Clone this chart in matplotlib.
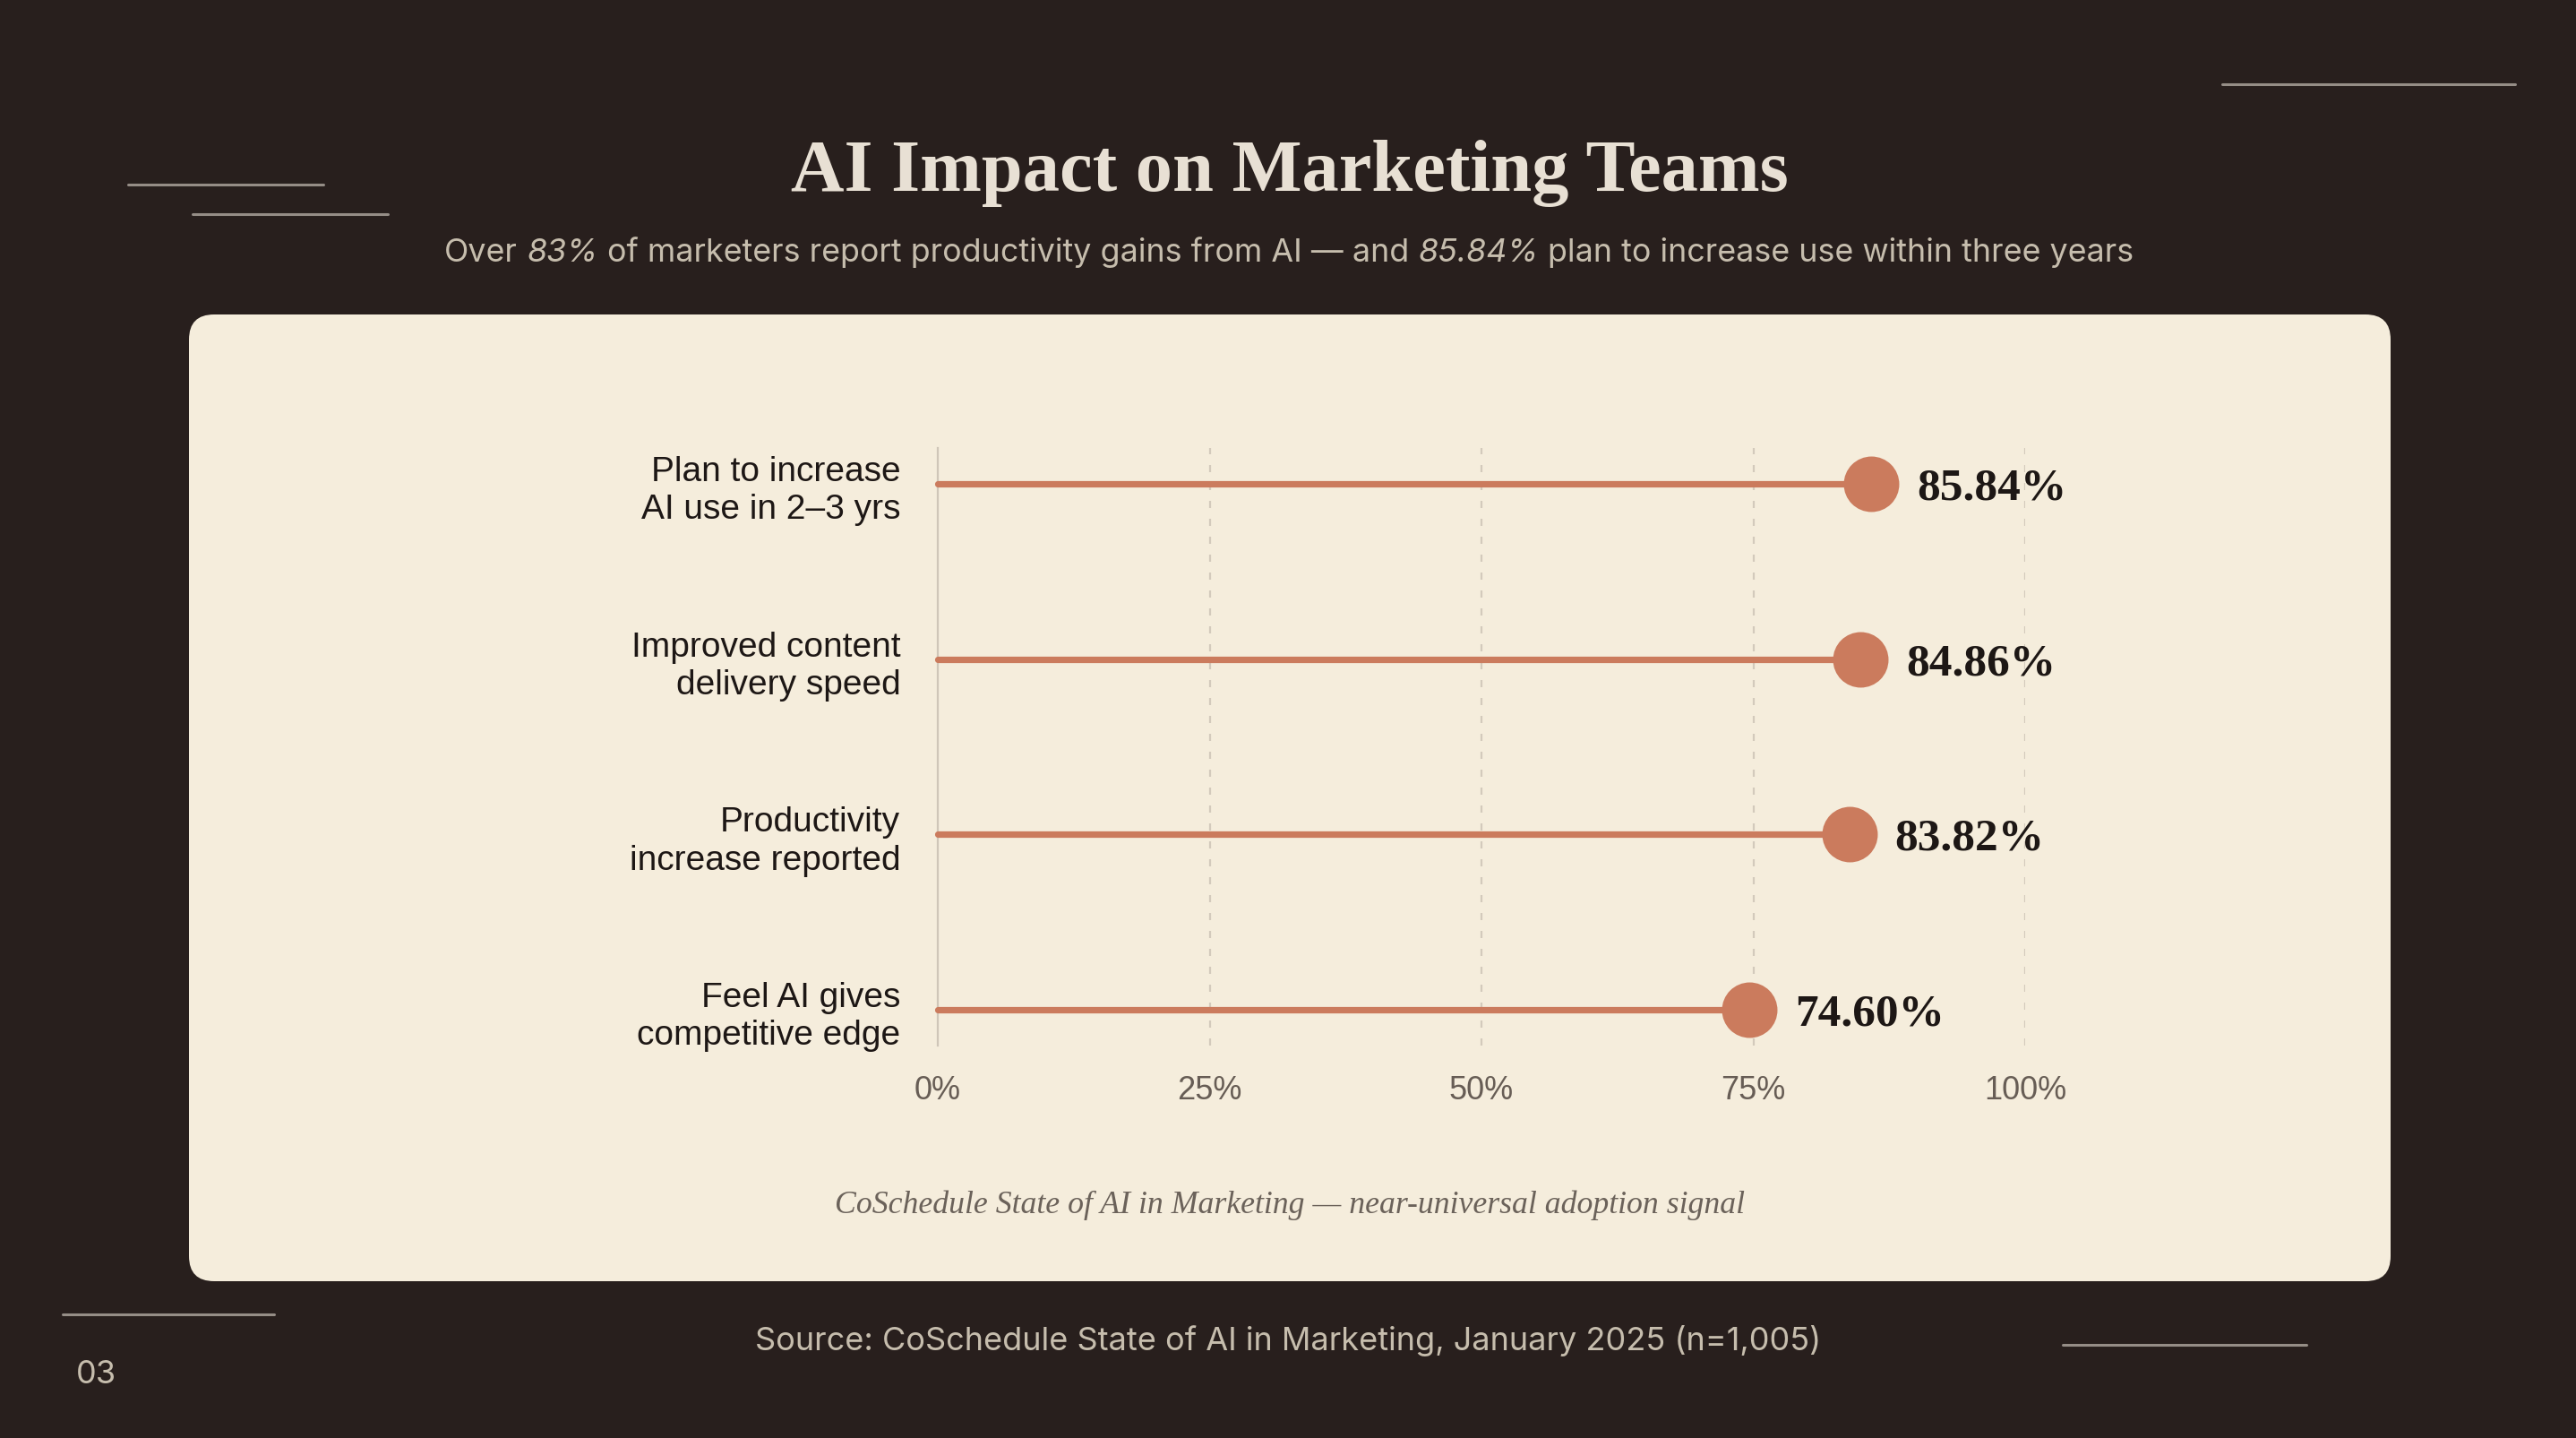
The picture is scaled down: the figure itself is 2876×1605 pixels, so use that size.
import matplotlib
matplotlib.use("Agg")
import matplotlib.pyplot as plt
from matplotlib.patches import FancyBboxPatch

# ---------------- data ----------------
categories = ["Plan to increase\nAI use in 2–3 yrs",
              "Improved content\ndelivery speed",
              "Productivity\nincrease reported",
              "Feel AI gives\ncompetitive edge"]
values = [85.84, 84.86, 83.82, 74.60]
xticks = [0, 25, 50, 75, 100]
xtick_labels = ["0%", "25%", "50%", "75%", "100%"]

title = "AI Impact on Marketing Teams"
subtitle_parts = [("Over", "normal"), ("83%", "italic"),
                  ("of marketers report productivity gains from AI — and", "normal"),
                  ("85.84%", "italic"),
                  ("plan to increase use within three years", "normal")]
caption = "CoSchedule State of AI in Marketing — near-universal adoption signal"
source = "Source: CoSchedule State of AI in Marketing, January 2025 (n=1,005)"
page_no = "03"

# ---------------- style ----------------
W, H, DPI = 2876, 1606, 200
BG = "#281f1d"
CARD = "#f5eddc"
ACCENT = "#cb7b5d"
LIGHT = "#e8e0d4"
MUTED = "#c6bdad"
DECO = "#958d86"
GRID = "#d3cabc"
TICK = "#675d55"
INK = "#1d1715"
SANS = ["Liberation Sans", "DejaVu Sans"]
SERIF = ["Liberation Serif", "DejaVu Serif"]
INTER = ["Inter", "DejaVu Sans"]

fig = plt.figure(figsize=(W / DPI, H / DPI), dpi=DPI, facecolor=BG)

# background axes in pixel coordinates (y downward)
bg = fig.add_axes([0, 0, 1, 1])
bg.set_xlim(0, W)
bg.set_ylim(H, 0)
bg.axis("off")
bg.set_zorder(0)

# card
card = FancyBboxPatch((211, 352), 2669 - 211, 1431 - 352,
                      boxstyle="round,pad=0,rounding_size=28",
                      facecolor=CARD, edgecolor="none")
bg.add_patch(card)

# decorative lines
for (x0, x1, yy) in [(2481, 2808, 95), (143, 361, 207), (215, 433, 240),
                     (70, 306, 1468), (2303, 2575, 1502)]:
    bg.plot([x0, x1], [yy, yy], color=DECO, lw=1.1, solid_capstyle="round")

# title
bg.text(1440, 213, title, ha="center", va="baseline", color=LIGHT,
        fontsize=29.7, fontweight="bold", family=SERIF)

# subtitle with italic parts
fig.canvas.draw()
r = fig.canvas.get_renderer()
sub_fs = 12.9
def wtext(s, style):
    t = bg.text(0, 0, s, fontsize=sub_fs, family=INTER, style=style)
    w = t.get_window_extent(r).width
    t.remove()
    return w
space_w = wtext("a a", "normal") - wtext("aa", "normal")
widths = [wtext(s, st) for s, st in subtitle_parts]
total = sum(widths) + space_w * (len(subtitle_parts) - 1)
x = 1439 - total / 2
for (s, st), w in zip(subtitle_parts, widths):
    bg.text(x, 292, s, ha="left", va="baseline", color=MUTED,
            fontsize=sub_fs, family=INTER, style=st)
    x += w + space_w

# caption, source, page number
bg.text(1440, 1354, caption, ha="center", va="baseline", color="#6b625a",
        fontsize=12.9, style="italic", family=SERIF)
bg.text(1438, 1507, source, ha="center", va="baseline", color=MUTED,
        fontsize=13.0, family=INTER)
bg.text(85, 1544, page_no, ha="left", va="baseline", color=MUTED,
        fontsize=13, family=INTER)

# ---------------- chart ----------------
ax = fig.add_axes([1047 / W, 1 - 1168 / H, 1214 / W, 667 / H])
ax.set_zorder(2)
ax.patch.set_alpha(0)
n = len(categories)
ypos = list(range(n - 1, -1, -1))
ax.set_xlim(0, 100)
ax.set_ylim(-0.204, n - 1 + 0.204)

for sp in ["top", "right", "bottom"]:
    ax.spines[sp].set_visible(False)
ax.spines["left"].set_color("#cfc6b8")
ax.spines["left"].set_linewidth(0.8)

ax.set_xticks(xticks)
ax.set_xticklabels(xtick_labels, family=SANS, fontsize=13.0, color=TICK)
ax.set_yticks(ypos)
ax.set_yticklabels(categories, family=SANS, fontsize=14.0, color=INK,
                   linespacing=1.22)
ax.tick_params(axis="x", length=0, pad=11.5)
ax.tick_params(axis="y", length=0, pad=15)

ax.grid(axis="x", color=GRID, lw=0.8, linestyle=(0, (3.6, 5.4)))
ax.get_xgridlines()[0].set_visible(False)
ax.set_axisbelow(True)

for y, v in zip(ypos, values):
    ax.plot([0, v], [y, y], color=ACCENT, lw=2.6, solid_capstyle="round",
            clip_on=False, zorder=3)
    ax.plot([v], [y], marker="o", markersize=22.3, color=ACCENT,
            markeredgewidth=0, clip_on=False, zorder=4)
    ax.annotate(f"{v:.2f}%", (v, y), xytext=(18.4, -1.6),
                textcoords="offset points", ha="left", va="center",
                fontsize=18.5, fontweight="bold", family=SERIF, color=INK,
                annotation_clip=False, zorder=5)

fig.savefig("out.png", dpi=DPI, facecolor=BG)
